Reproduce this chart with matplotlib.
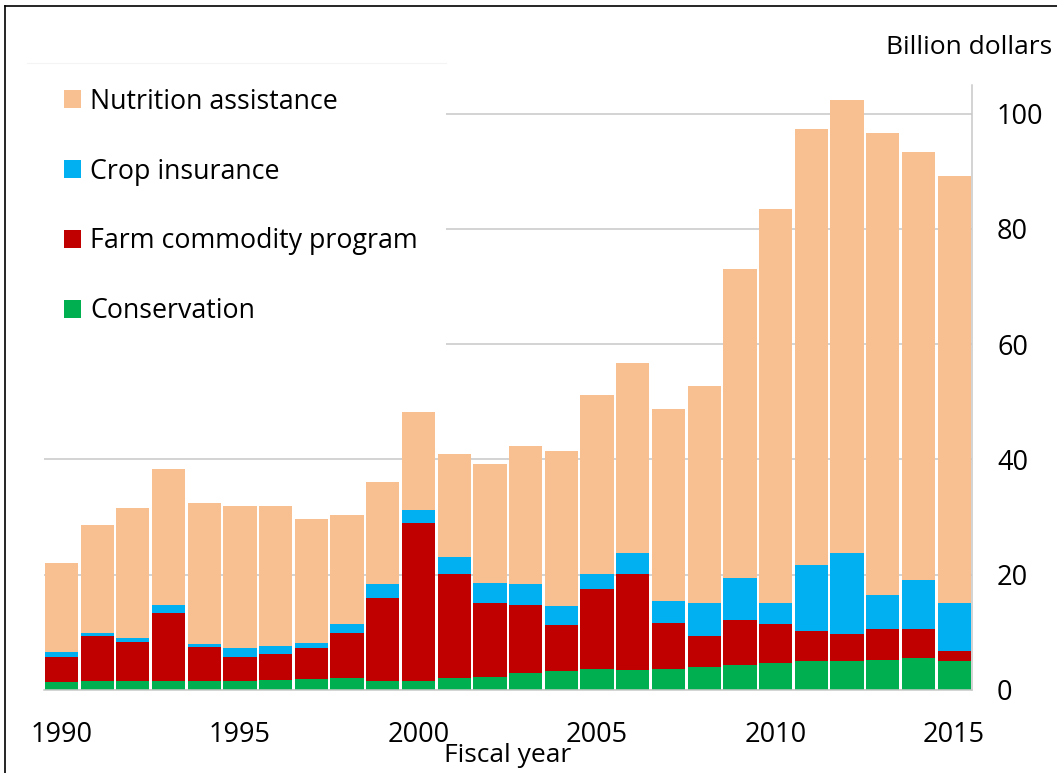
import numpy as np
import matplotlib
matplotlib.use("Agg")
import matplotlib.pyplot as plt
from matplotlib.patches import Patch, Rectangle
from matplotlib.lines import Line2D

plt.rcParams['font.family'] = ['Open Sans', 'DejaVu Sans']

# Gasto federal por programa, miles de millones de dólares
years = np.arange(1990, 2016)
conservation = [1.4, 1.5, 1.5, 1.5, 1.6, 1.6, 1.7, 1.85, 2.0, 1.6, 1.6, 2.0, 2.3,
                2.95, 3.3, 3.6, 3.5, 3.6, 3.9, 4.4, 4.65, 5.0, 5.0, 5.2, 5.6, 5.1]
farm_commodity = [4.4, 7.8, 6.8, 11.9, 5.9, 4.2, 4.6, 5.35, 7.9, 14.4, 27.3, 18.2, 12.8,
                  11.85, 8.0, 13.9, 16.6, 8.0, 5.5, 7.7, 6.75, 5.3, 4.65, 5.4, 4.9, 1.7]
crop_insurance = [0.8, 0.6, 0.7, 1.3, 0.5, 1.4, 1.4, 0.9, 1.6, 2.3, 2.3, 2.9, 3.5,
                  3.6, 3.2, 2.6, 3.6, 3.9, 5.7, 7.3, 3.7, 11.3, 14.15, 5.9, 8.55, 8.3]
nutrition = [15.5, 18.7, 22.5, 23.6, 24.5, 24.7, 24.3, 21.6, 18.9, 17.8, 17.0, 17.8, 20.6,
             23.9, 27.0, 31.1, 33.0, 33.3, 37.7, 53.6, 68.4, 75.7, 78.5, 80.1, 74.25, 74.0]

series = [
    ("Conservation", conservation, "#00B050"),
    ("Farm commodity program", farm_commodity, "#C00000"),
    ("Crop insurance", crop_insurance, "#00B0F0"),
    ("Nutrition assistance", nutrition, "#F8C090"),
]

fig = plt.figure(figsize=(10.57, 7.73), dpi=100)
ax = fig.add_axes([0.0412, 0.1074, 0.8784, 0.783])

bottom = np.zeros(len(years))
for name, vals, color in series:
    ax.bar(years, vals, bottom=bottom, width=0.93, color=color, linewidth=0, zorder=2)
    bottom += np.array(vals)

ax.set_xlim(1989.5, 2015.5)
ax.set_ylim(0, 105)
ax.set_axisbelow(True)
ax.yaxis.grid(True, color="#C8C8C8", linewidth=1.1)

ax.yaxis.tick_right()
ax.set_yticks([0, 20, 40, 60, 80, 100])
ax.set_xticks([1990, 1995, 2000, 2005, 2010, 2015])
ax.tick_params(axis="y", length=0, pad=18, labelsize=19.5)
ax.tick_params(axis="x", length=0, pad=22, labelsize=19.5)
ax.set_xlabel("Fiscal year", fontsize=19, labelpad=-4)

for s in ["top", "left"]:
    ax.spines[s].set_visible(False)
ax.spines["right"].set_color("#C8C8C8")
ax.spines["bottom"].set_color("#C8C8C8")
ax.spines["right"].set_linewidth(1.1)
ax.spines["bottom"].set_linewidth(1.1)

# caja blanca de la leyenda (tapa las líneas de la grilla)
ax.add_patch(Rectangle((27 / 1057, 1 - 400 / 773), (446 - 27) / 1057, (400 - 63) / 773,
                       transform=fig.transFigure, facecolor="white", edgecolor="none",
                       zorder=1, clip_on=False))
fig.add_artist(Line2D([27 / 1057, 446 / 1057], [1 - 63 / 773, 1 - 63 / 773],
                      transform=fig.transFigure, color="#F4F4F4", linewidth=0.8))

handles = [Patch(facecolor=c, label=n) for n, v, c in series[::-1]]
fig.legend(handles=handles, loc="upper left", bbox_to_anchor=(53 / 1057, 1 - 77 / 773),
           frameon=False, fontsize=19.3, handlelength=0.65, handleheight=0.65,
           handletextpad=0.33, labelspacing=1.56, borderaxespad=0)

fig.text(1052 / 1057, 1 - 48 / 773, "Billion dollars", fontsize=19, ha="right", va="center")

# marco de la figura
fig.add_artist(Line2D([5 / 1057, 1], [1 - 6 / 773, 1 - 6 / 773], transform=fig.transFigure,
                      color="black", linewidth=1.2))
fig.add_artist(Line2D([5 / 1057, 5 / 1057], [0, 1 - 6 / 773], transform=fig.transFigure,
                      color="black", linewidth=1.2))

fig.savefig("out.png", dpi=100)
